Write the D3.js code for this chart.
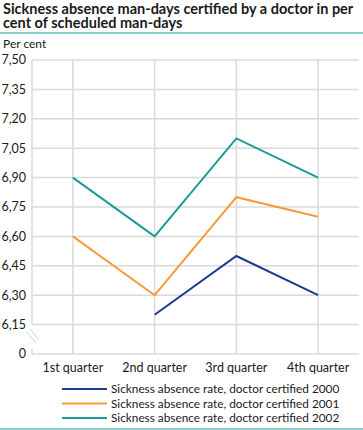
<!DOCTYPE html>
<html>
<head>
<meta charset="utf-8">
<script src="https://cdn.jsdelivr.net/npm/d3@7"></script>
<style>
  body { margin: 0; background: #fff; }
  svg text { font-family: Lato, "Open Sans", sans-serif; fill: #1a1a1a; }
</style>
</head>
<body>
<div class="chart"></div>
<script>
var width = 363,
    height = 430;

// data
var quarters = ["1st quarter", "2nd quarter", "3rd quarter", "4th quarter"];
var rate2000 = [null, 6.2, 6.5, 6.3];
var rate2001 = [6.6, 6.3, 6.8, 6.7];
var rate2002 = [6.9, 6.6, 7.1, 6.9];
var seriesNames = ["Sickness absence rate, doctor certified 2000",
                   "Sickness absence rate, doctor certified 2001",
                   "Sickness absence rate, doctor certified 2002"];
var yTicks = [6.00, 6.15, 6.30, 6.45, 6.60, 6.75, 6.90, 7.05, 7.20, 7.35, 7.50];
var yTickLabels = ["0", "6,15", "6,30", "6,45", "6,60", "6,75", "6,90", "7,05", "7,20", "7,35", "7,50"];

var color = ["#1d3a8f", "#f7993a", "#1b9b97"];
var grid = "#dadada";

var plotLeft = 32, plotRight = 359, plotTop = 60, plotBottom = 354;

var svg = d3.select(".chart")
  .append("svg")
  .attr("width", width)
  .attr("height", height);

var x = d3.scalePoint()
  .domain(quarters)
  .range([plotLeft, plotRight])
  .padding(0.5);

var y = d3.scaleLinear()
  .domain([yTicks[0], yTicks[yTicks.length - 1]])
  .range([plotBottom, plotTop]);

// title
svg.append("text")
  .attr("x", 3).attr("y", 14)
  .attr("font-size", "14.5px").attr("font-weight", "bold")
  .text("Sickness absence man-days certified by a doctor in per");
svg.append("text")
  .attr("x", 3).attr("y", 28)
  .attr("font-size", "14.5px").attr("font-weight", "bold")
  .text("cent of scheduled man-days");

svg.append("line")
  .attr("x1", 0).attr("x2", width)
  .attr("y1", 33).attr("y2", 33)
  .attr("stroke", "#1b9b97").attr("stroke-width", 1);

svg.append("text")
  .attr("x", 3).attr("y", 48)
  .attr("font-size", "12px")
  .text("Per cent");

// horizontal grid (the 0 line is the axis)
svg.selectAll("line.hgrid")
  .data(yTicks.slice(1))
  .enter()
  .append("line")
  .attr("class", "hgrid")
  .attr("x1", plotLeft).attr("x2", plotRight)
  .attr("y1", function(d) { return y(d); })
  .attr("y2", function(d) { return y(d); })
  .attr("stroke", grid).attr("stroke-width", 1.5);

// vertical grid
svg.selectAll("line.vgrid")
  .data(quarters)
  .enter()
  .append("line")
  .attr("class", "vgrid")
  .attr("x1", function(d) { return x(d); })
  .attr("x2", function(d) { return x(d); })
  .attr("y1", plotTop).attr("y2", plotBottom)
  .attr("stroke", grid).attr("stroke-width", 1.5);

// left axis with break
svg.append("line")
  .attr("x1", plotLeft).attr("x2", plotLeft)
  .attr("y1", plotTop).attr("y2", y(yTicks[1]))
  .attr("stroke", grid).attr("stroke-width", 1.5);
svg.append("line")
  .attr("x1", plotLeft).attr("x2", plotLeft)
  .attr("y1", plotBottom - 5).attr("y2", plotBottom)
  .attr("stroke", grid).attr("stroke-width", 1.5);
svg.append("line")
  .attr("x1", plotLeft).attr("x2", plotRight)
  .attr("y1", plotBottom).attr("y2", plotBottom)
  .attr("stroke", grid).attr("stroke-width", 1.5);
[0, 3].forEach(function(o) {
  svg.append("line")
    .attr("x1", 27 + o).attr("y1", 332 - o)
    .attr("x2", 36 + o).attr("y2", 343 - o)
    .attr("stroke", "#cfcfcf").attr("stroke-width", 1);
});

// y tick labels
svg.selectAll("text.ytick")
  .data(yTicks)
  .enter()
  .append("text")
  .attr("class", "ytick")
  .attr("x", 26)
  .attr("y", function(d) { return y(d); })
  .attr("dy", "0.35em")
  .attr("text-anchor", "end")
  .attr("font-size", "12.5px")
  .text(function(d, i) { return yTickLabels[i]; });

// x labels
svg.selectAll("text.xtick")
  .data(quarters)
  .enter()
  .append("text")
  .attr("class", "xtick")
  .attr("x", function(d) { return x(d); })
  .attr("y", 372)
  .attr("text-anchor", "middle")
  .attr("font-size", "12.5px")
  .text(function(d) { return d; });

// lines
var line = d3.line()
  .defined(function(d) { return d != null; })
  .x(function(d, i) { return x(quarters[i]); })
  .y(function(d) { return y(d); });

svg.selectAll("path.series")
  .data([rate2000, rate2001, rate2002])
  .enter()
  .append("path")
  .attr("class", "series")
  .attr("fill", "none")
  .attr("stroke", function(d, i) { return color[i]; })
  .attr("stroke-width", 2)
  .attr("d", line);

// legend
var legend = svg.selectAll(".legend")
  .data(seriesNames)
  .enter()
  .append("g")
  .attr("class", "legend")
  .attr("transform", function(d, i) {
    return "translate(0," + (389 + i * 14.5) + ")";
  });

legend.append("line")
  .attr("x1", 62).attr("x2", 107)
  .attr("stroke", function(d, i) { return color[i]; })
  .attr("stroke-width", 2);

legend.append("text")
  .attr("x", 111)
  .attr("dy", "0.35em")
  .attr("font-size", "11.8px")
  .text(function(d) { return d; });

svg.append("line")
  .attr("x1", 0).attr("x2", width)
  .attr("y1", 429).attr("y2", 429)
  .attr("stroke", "#1b9b97").attr("stroke-width", 1);
</script>
</body>
</html>
